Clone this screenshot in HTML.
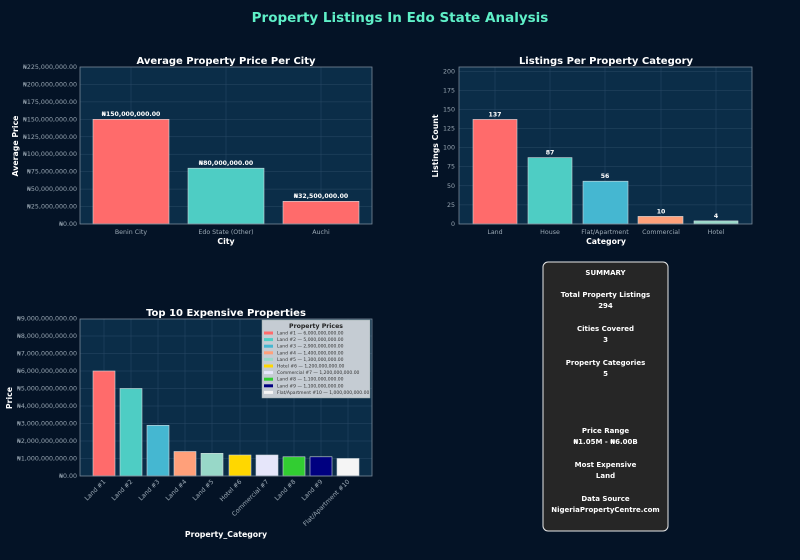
<!DOCTYPE html>
<html><head><meta charset="utf-8"><style>
html,body{margin:0;padding:0;background:#041326;}
svg{display:block;font-family:"DejaVu Sans","Liberation Sans",sans-serif;}
</style></head><body>
<svg width="800" height="560" viewBox="0 0 800 560" xmlns="http://www.w3.org/2000/svg">
<rect width="800" height="560" fill="#041326"/>
<text x="400" y="22" text-anchor="middle" font-size="13.5" font-weight="bold" fill="#5ff0c8">Property Listings In Edo State Analysis</text>

<!-- Chart 1 -->
<text x="226" y="64" text-anchor="middle" font-size="10" font-weight="bold" fill="#fff">Average Property Price Per City</text>
<rect x="80" y="67" width="292" height="157" fill="#0b2d48"/>
<g stroke="#2a4a66" stroke-width="0.5">
<line x1="80" x2="372" y1="84.4" y2="84.4"/><line x1="80" x2="372" y1="101.9" y2="101.9"/><line x1="80" x2="372" y1="119.3" y2="119.3"/><line x1="80" x2="372" y1="136.8" y2="136.8"/><line x1="80" x2="372" y1="154.2" y2="154.2"/><line x1="80" x2="372" y1="171.7" y2="171.7"/><line x1="80" x2="372" y1="189.1" y2="189.1"/><line x1="80" x2="372" y1="206.6" y2="206.6"/>
<line x1="131" x2="131" y1="67" y2="224"/><line x1="226" x2="226" y1="67" y2="224"/><line x1="321" x2="321" y1="67" y2="224"/>
</g>
<g stroke="#cfd8dc" stroke-width="0.6">
<rect x="93" y="119.3" width="76" height="104.7" fill="#ff6b6b"/>
<rect x="188" y="168.2" width="76" height="55.8" fill="#4ecdc4"/>
<rect x="283" y="201.3" width="76" height="22.7" fill="#ff6b6b"/>
</g>
<rect x="80" y="67" width="292" height="157" fill="none" stroke="#7a8a99" stroke-width="0.8"/>
<g font-size="6.2" font-weight="bold" fill="#fff" text-anchor="middle">
<text x="131" y="116">₦150,000,000.00</text><text x="226" y="165">₦80,000,000.00</text><text x="321" y="198">₦32,500,000.00</text>
</g>
<g font-size="6.3" fill="#9aa8b4" text-anchor="end">
<text x="77" y="226">₦0.00</text><text x="77" y="208.6">₦25,000,000.00</text><text x="77" y="191.1">₦50,000,000.00</text><text x="77" y="173.7">₦75,000,000.00</text><text x="77" y="156.2">₦100,000,000.00</text><text x="77" y="138.8">₦125,000,000.00</text><text x="77" y="121.3">₦150,000,000.00</text><text x="77" y="103.9">₦175,000,000.00</text><text x="77" y="86.4">₦200,000,000.00</text><text x="77" y="69">₦225,000,000.00</text>
</g>
<g font-size="6.3" fill="#9aa8b4" text-anchor="middle"><text x="131" y="234">Benin City</text><text x="226" y="234">Edo State (Other)</text><text x="321" y="234">Auchi</text></g>
<text x="226" y="244" text-anchor="middle" font-size="7.8" font-weight="bold" fill="#fff">City</text>
<text transform="translate(18,146) rotate(-90)" text-anchor="middle" font-size="7.8" font-weight="bold" fill="#fff">Average Price</text>

<!-- Chart 2 -->
<text x="606" y="64" text-anchor="middle" font-size="10" font-weight="bold" fill="#fff">Listings Per Property Category</text>
<rect x="459" y="67" width="293" height="157" fill="#0b2d48"/>
<g stroke="#2a4a66" stroke-width="0.5">
<line x1="459" x2="752" y1="204.9" y2="204.9"/><line x1="459" x2="752" y1="185.8" y2="185.8"/><line x1="459" x2="752" y1="166.7" y2="166.7"/><line x1="459" x2="752" y1="147.6" y2="147.6"/><line x1="459" x2="752" y1="128.6" y2="128.6"/><line x1="459" x2="752" y1="109.5" y2="109.5"/><line x1="459" x2="752" y1="90.4" y2="90.4"/><line x1="459" x2="752" y1="71.3" y2="71.3"/>
<line x1="495" x2="495" y1="67" y2="224"/><line x1="550" x2="550" y1="67" y2="224"/><line x1="605" x2="605" y1="67" y2="224"/><line x1="661" x2="661" y1="67" y2="224"/><line x1="716" x2="716" y1="67" y2="224"/>
</g>
<g stroke="#cfd8dc" stroke-width="0.6">
<rect x="473" y="119.4" width="44" height="104.6" fill="#ff6b6b"/>
<rect x="528" y="157.6" width="44" height="66.4" fill="#4ecdc4"/>
<rect x="583" y="181.2" width="45" height="42.8" fill="#45b7d1"/>
<rect x="638" y="216.4" width="45" height="7.6" fill="#ffa07a"/>
<rect x="694" y="220.9" width="44" height="3.1" fill="#98d8c8"/>
</g>
<rect x="459" y="67" width="293" height="157" fill="none" stroke="#7a8a99" stroke-width="0.8"/>
<g font-size="6.2" font-weight="bold" fill="#fff" text-anchor="middle">
<text x="495" y="116.5">137</text><text x="550" y="154.5">87</text><text x="605" y="178">56</text><text x="661" y="213.5">10</text><text x="716" y="218">4</text>
</g>
<g font-size="6.3" fill="#9aa8b4" text-anchor="end">
<text x="455" y="226">0</text><text x="455" y="206.9">25</text><text x="455" y="187.8">50</text><text x="455" y="168.7">75</text><text x="455" y="149.6">100</text><text x="455" y="130.6">125</text><text x="455" y="111.5">150</text><text x="455" y="92.4">175</text><text x="455" y="73.3">200</text>
</g>
<g font-size="6.3" fill="#9aa8b4" text-anchor="middle"><text x="495" y="234">Land</text><text x="550" y="234">House</text><text x="605" y="234">Flat/Apartment</text><text x="661" y="234">Commercial</text><text x="716" y="234">Hotel</text></g>
<text x="606" y="244" text-anchor="middle" font-size="7.8" font-weight="bold" fill="#fff">Category</text>
<text transform="translate(438,146) rotate(-90)" text-anchor="middle" font-size="7.8" font-weight="bold" fill="#fff">Listings Count</text>

<!-- Chart 3 -->
<text x="226" y="316" text-anchor="middle" font-size="10" font-weight="bold" fill="#fff">Top 10 Expensive Properties</text>
<rect x="80" y="319" width="292" height="157" fill="#0b2d48"/>
<g stroke="#2a4a66" stroke-width="0.5">
<line x1="80" x2="372" y1="458.5" y2="458.5"/><line x1="80" x2="372" y1="441" y2="441"/><line x1="80" x2="372" y1="423.5" y2="423.5"/><line x1="80" x2="372" y1="406" y2="406"/><line x1="80" x2="372" y1="388.5" y2="388.5"/><line x1="80" x2="372" y1="371" y2="371"/><line x1="80" x2="372" y1="353.5" y2="353.5"/><line x1="80" x2="372" y1="336" y2="336"/>
<line x1="104" x2="104" y1="319" y2="476"/><line x1="131" x2="131" y1="319" y2="476"/><line x1="158" x2="158" y1="319" y2="476"/><line x1="185" x2="185" y1="319" y2="476"/><line x1="212" x2="212" y1="319" y2="476"/><line x1="240" x2="240" y1="319" y2="476"/><line x1="267" x2="267" y1="319" y2="476"/><line x1="294" x2="294" y1="319" y2="476"/><line x1="321" x2="321" y1="319" y2="476"/><line x1="348" x2="348" y1="319" y2="476"/>
</g>
<g stroke="#cfd8dc" stroke-width="0.6">
<rect x="93" y="371" width="22" height="105" fill="#ff6b6b"/>
<rect x="120" y="388.5" width="22" height="87.5" fill="#4ecdc4"/>
<rect x="147" y="425.3" width="22" height="50.7" fill="#45b7d1"/>
<rect x="174" y="451.5" width="22" height="24.5" fill="#ffa07a"/>
<rect x="201" y="453.3" width="22" height="22.7" fill="#98d8c8"/>
<rect x="229" y="455" width="22" height="21" fill="#ffd700"/>
<rect x="256" y="455" width="22" height="21" fill="#e6e6fa"/>
<rect x="283" y="456.8" width="22" height="19.2" fill="#32cd32"/>
<rect x="310" y="456.8" width="22" height="19.2" fill="#000080"/>
<rect x="337" y="458.5" width="22" height="17.5" fill="#f5f5f5"/>
</g>
<rect x="80" y="319" width="292" height="157" fill="none" stroke="#7a8a99" stroke-width="0.8"/>
<g font-size="6.3" fill="#9aa8b4" text-anchor="end">
<text x="77" y="478">₦0.00</text><text x="77" y="460.5">₦1,000,000,000.00</text><text x="77" y="443">₦2,000,000,000.00</text><text x="77" y="425.5">₦3,000,000,000.00</text><text x="77" y="408">₦4,000,000,000.00</text><text x="77" y="390.5">₦5,000,000,000.00</text><text x="77" y="373">₦6,000,000,000.00</text><text x="77" y="355.5">₦7,000,000,000.00</text><text x="77" y="338">₦8,000,000,000.00</text><text x="77" y="320.5">₦9,000,000,000.00</text>
</g>
<g font-size="6.3" fill="#9aa8b4" text-anchor="end">
<text transform="translate(106,482) rotate(-45)">Land #1</text>
<text transform="translate(133,482) rotate(-45)">Land #2</text>
<text transform="translate(160,482) rotate(-45)">Land #3</text>
<text transform="translate(187,482) rotate(-45)">Land #4</text>
<text transform="translate(214,482) rotate(-45)">Land #5</text>
<text transform="translate(242,482) rotate(-45)">Hotel #6</text>
<text transform="translate(269,482) rotate(-45)">Commercial #7</text>
<text transform="translate(296,482) rotate(-45)">Land #8</text>
<text transform="translate(323,482) rotate(-45)">Land #9</text>
<text transform="translate(350,482) rotate(-45)">Flat/Apartment #10</text>
</g>
<text x="226" y="537" text-anchor="middle" font-size="7.8" font-weight="bold" fill="#fff">Property_Category</text>
<text transform="translate(12,398) rotate(-90)" text-anchor="middle" font-size="7.8" font-weight="bold" fill="#fff">Price</text>
<!-- legend -->
<rect x="262" y="320" width="108" height="78" fill="#c5ccd3" stroke="#9aa" stroke-width="0.5"/>
<text x="316" y="328" text-anchor="middle" font-size="6.2" font-weight="bold" fill="#222">Property Prices</text>
<g font-size="4.5" fill="#333">
<rect x="264" y="331.5" width="9" height="3" fill="#ff6b6b"/><text x="277" y="334.5">Land #1 — 6,000,000,000.00</text>
<rect x="264" y="338.1" width="9" height="3" fill="#4ecdc4"/><text x="277" y="341.1">Land #2 — 5,000,000,000.00</text>
<rect x="264" y="344.7" width="9" height="3" fill="#45b7d1"/><text x="277" y="347.7">Land #3 — 2,900,000,000.00</text>
<rect x="264" y="351.3" width="9" height="3" fill="#ffa07a"/><text x="277" y="354.3">Land #4 — 1,400,000,000.00</text>
<rect x="264" y="357.9" width="9" height="3" fill="#98d8c8"/><text x="277" y="360.9">Land #5 — 1,300,000,000.00</text>
<rect x="264" y="364.5" width="9" height="3" fill="#ffd700"/><text x="277" y="367.5">Hotel #6 — 1,200,000,000.00</text>
<rect x="264" y="371.1" width="9" height="3" fill="#e6e6fa"/><text x="277" y="374.1">Commercial #7 — 1,200,000,000.00</text>
<rect x="264" y="377.7" width="9" height="3" fill="#32cd32"/><text x="277" y="380.7">Land #8 — 1,100,000,000.00</text>
<rect x="264" y="384.3" width="9" height="3" fill="#000080"/><text x="277" y="387.3">Land #9 — 1,100,000,000.00</text>
<rect x="264" y="390.9" width="9" height="3" fill="#f5f5f5"/><text x="277" y="393.9">Flat/Apartment #10 — 1,000,000,000.00</text>
</g>

<!-- Summary -->
<rect x="543" y="262" width="125" height="269" rx="5" fill="#262626" stroke="#e8e8e8" stroke-width="1"/>
<g font-size="7" font-weight="bold" fill="#fff" text-anchor="middle">
<text x="605.5" y="275">SUMMARY</text>
<text x="605.5" y="297">Total Property Listings</text><text x="605.5" y="308">294</text>
<text x="605.5" y="331">Cities Covered</text><text x="605.5" y="342">3</text>
<text x="605.5" y="365">Property Categories</text><text x="605.5" y="376">5</text>
<text x="605.5" y="433">Price Range</text><text x="605.5" y="444">₦1.05M - ₦6.00B</text>
<text x="605.5" y="467">Most Expensive</text><text x="605.5" y="478">Land</text>
<text x="605.5" y="501">Data Source</text><text x="605.5" y="512">NigeriaPropertyCentre.com</text>
</g>
</svg>
</body></html>
